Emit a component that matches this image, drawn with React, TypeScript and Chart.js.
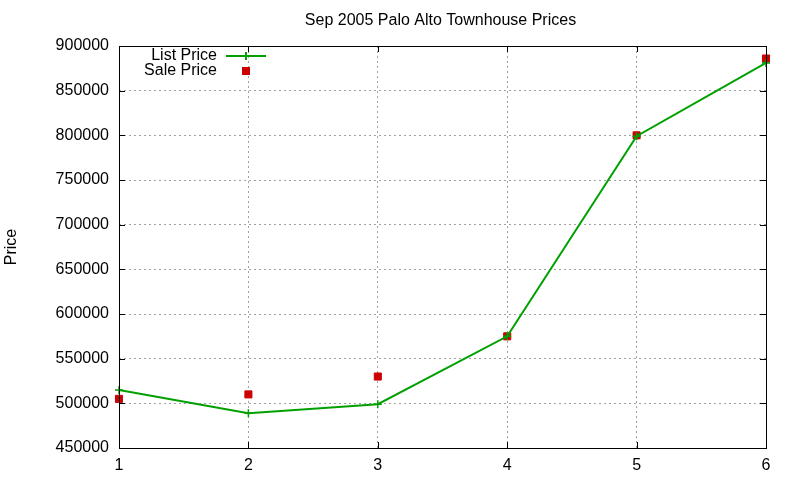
import { useEffect, useRef } from "react";
import { Chart, ChartOptions, Plugin, registerables } from "chart.js";

Chart.register(...registerables);

const houses = [1, 2, 3, 4, 5, 6];
const listPrices = [515000, 489000, 499000, 575000, 799000, 881000];
const salePrices = [505000, 510000, 530000, 575000, 800000, 886000];
const seriesLabels = ["List Price", "Sale Price"];
const chartTitle = "Sep 2005 Palo Alto Townhouse Prices";

const GREEN = "#00a000";
const RED = "#cc0000";
const FONT = "'Liberation Sans', Arial, sans-serif";

// gnuplot-ish frame: black border, inward ticks on all sides, inset key, title over plot
const framePlugin: Plugin = {
  id: "frame",
  afterDatasetsDraw(chart) {
    const { ctx, chartArea: a, scales } = chart;
    const xs = scales.x;
    const ys = scales.y;
    ctx.save();
    ctx.strokeStyle = "#000";
    ctx.lineWidth = 1;
    ctx.beginPath();
    const tick = 6;
    xs.ticks.forEach((t) => {
      const px = Math.round(xs.getPixelForValue(t.value)) + 0.5;
      ctx.moveTo(px, a.bottom);
      ctx.lineTo(px, a.bottom - tick);
      ctx.moveTo(px, a.top);
      ctx.lineTo(px, a.top + tick);
    });
    ys.ticks.forEach((t) => {
      const py = Math.round(ys.getPixelForValue(t.value)) + 0.5;
      ctx.moveTo(a.left, py);
      ctx.lineTo(a.left + tick, py);
      ctx.moveTo(a.right, py);
      ctx.lineTo(a.right - tick, py);
    });
    ctx.stroke();
    ctx.strokeRect(
      Math.round(a.left) + 0.5,
      Math.round(a.top) + 0.5,
      Math.round(a.right - a.left),
      Math.round(a.bottom - a.top)
    );

    ctx.font = `16px ${FONT}`;
    ctx.fillStyle = "#000";
    ctx.textBaseline = "middle";

    // title, centred over the plot area
    ctx.textAlign = "center";
    ctx.fillText(chartTitle, (a.left + a.right) / 2 - 2, a.top - 25);

    // key
    ctx.textAlign = "right";
    const textX = a.left + 98;
    const sampleL = a.left + 107;
    const sampleR = a.left + 147;
    const mid = (sampleL + sampleR) / 2;
    const y1 = a.top + 10;
    const y2 = a.top + 25;
    ctx.fillText(seriesLabels[0], textX, y1);
    ctx.fillText(seriesLabels[1], textX, y2);
    ctx.strokeStyle = GREEN;
    ctx.lineWidth = 2;
    ctx.beginPath();
    ctx.moveTo(sampleL, y1);
    ctx.lineTo(sampleR, y1);
    ctx.moveTo(mid, y1 - 4);
    ctx.lineTo(mid, y1 + 4);
    ctx.stroke();
    ctx.fillStyle = RED;
    ctx.fillRect(mid - 4, y2 - 4, 8, 8);
    ctx.restore();
  },
};

export default function App() {
  const canvasRef = useRef<HTMLCanvasElement>(null);
  const chartRef = useRef<Chart | null>(null);

  useEffect(() => {
    if (!canvasRef.current) return;
    if (chartRef.current) chartRef.current.destroy();
    const ctx = canvasRef.current.getContext("2d");
    if (!ctx) return;

    const options: ChartOptions<"line"> = {
      responsive: false,
      animation: false,
      layout: { padding: { left: 0, right: 34, top: 46, bottom: 0 } },
      plugins: {
        legend: { display: false },
        tooltip: { enabled: false },
        title: { display: false },
      },
      scales: {
        x: {
          type: "linear",
          min: 1,
          max: 6,
          ticks: {
            stepSize: 1,
            color: "#000",
            padding: 8,
            font: { family: FONT, size: 16 },
          },
          grid: {
            color: "#a0a0a0",
            drawTicks: false,
          },
          border: { display: false, dash: [2, 3] },
          afterFit: (scale) => {
            scale.height = 32;
          },
        },
        y: {
          min: 450000,
          max: 900000,
          ticks: {
            stepSize: 50000,
            color: "#000",
            padding: 10,
            font: { family: FONT, size: 16 },
            callback: (v) => String(v),
          },
          grid: {
            color: "#a0a0a0",
            drawTicks: false,
          },
          border: { display: false, dash: [2, 3] },
          title: {
            display: true,
            text: "Price",
            color: "#000",
            font: { family: FONT, size: 16 },
            padding: { top: 2, bottom: 0 },
          },
          afterFit: (scale) => {
            scale.width = 119;
          },
        },
      },
    };

    chartRef.current = new Chart(ctx, {
      type: "line",
      data: {
        datasets: [
          {
            label: seriesLabels[0],
            data: houses.map((x, i) => ({ x, y: listPrices[i] })),
            borderColor: GREEN,
            backgroundColor: GREEN,
            borderWidth: 2,
            pointStyle: "cross",
            pointRadius: 4,
            pointBorderWidth: 1.5,
            tension: 0,
            clip: false,
          },
          {
            label: seriesLabels[1],
            data: houses.map((x, i) => ({ x, y: salePrices[i] })),
            showLine: false,
            borderColor: RED,
            backgroundColor: RED,
            pointStyle: "rect",
            pointRadius: 5,
            pointBorderWidth: 1,
            clip: false,
          },
        ],
      },
      options,
      plugins: [framePlugin],
    });

    return () => {
      if (chartRef.current) {
        chartRef.current.destroy();
        chartRef.current = null;
      }
    };
  }, []);

  return (
    <div style={{ position: "fixed", left: 0, top: 0, width: 800, height: 480, background: "#fff" }}>
      <canvas ref={canvasRef} width={800} height={480} />
    </div>
  );
}
